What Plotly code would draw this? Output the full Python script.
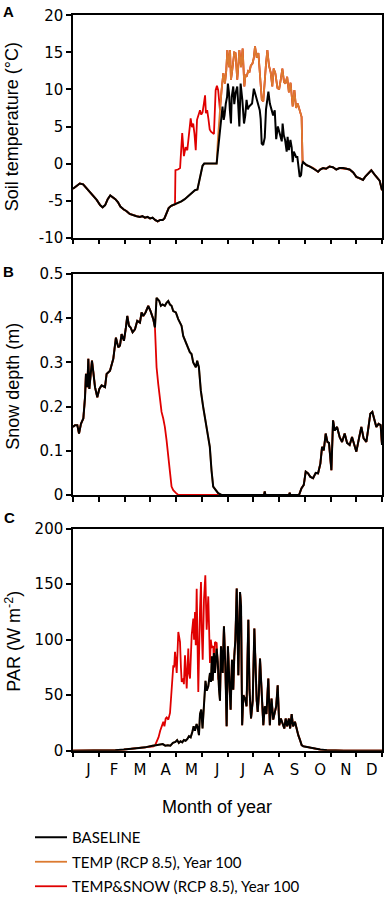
import plotly.graph_objects as go

# ---------------- DATA ----------------
# Panel A: soil temperature (°C), day of year
temp_base_day = [0, 4, 8, 12, 16, 20, 24, 28, 32, 35, 38, 41, 44, 47, 50, 53, 56, 60, 63, 67, 71, 75, 79, 82, 85, 88, 91, 94, 97, 100, 103, 106, 108, 111, 113, 116, 120, 124, 128, 132, 136, 140, 144, 147, 149, 151, 153, 155, 160, 165, 169.7,
                 171, 172.5, 173.5, 175, 176.6, 178, 179, 180.5, 182, 183, 184.3, 185.3, 186.6, 187.5, 189.3, 190.5, 192, 194, 195.2, 196.5, 198, 200, 202, 203.5, 205, 206.5, 208, 210, 211.5, 213.6, 215, 216.5, 218.7, 220.6, 221.7, 222.9, 224.6, 226.5, 228, 229.6, 230.8, 232.5, 234.4, 236.4, 238.3, 240, 242, 244.2, 246.6, 247.6, 249, 250.5, 252.4, 253.5, 255, 256.8, 258.3, 259.5, 260.8, 262, 263.5, 265, 266.2, 267.8, 269.4, 270.5, 271.8,
                 275.7, 280, 283.6, 287, 289.5, 292, 295.4, 299, 303, 307, 311, 315, 319, 323, 326.8, 331, 334.7, 339, 342.6, 345, 348.5, 352.4, 356.3, 360, 362.2, 365]
temp_base_val = [-3.4, -3.0, -2.7, -2.8, -3.3, -3.9, -4.4, -4.9, -5.6, -5.9, -5.6, -4.8, -4.3, -4.5, -4.8, -5.2, -5.8, -6.2, -6.4, -6.8, -7.0, -7.1, -7.2, -7.1, -7.3, -7.2, -7.4, -7.3, -7.6, -7.8, -7.6, -7.6, -7.4, -6.6, -6.0, -5.7, -5.5, -5.4, -5.1, -4.8, -4.4, -4.0, -3.6, -3.5, -2.5, -1.2, -0.3, 0.0, 0.0, 0.0, 0.0,
                 1.5, 3.2, 4.1, 6.0, 7.7, 5.9, 6.5, 8.1, 9.0, 10.8, 9.5, 7.2, 5.4, 9.0, 10.4, 8.0, 9.5, 10.4, 8.0, 5.0, 10.8, 8.6, 5.4, 6.5, 8.6, 7.3, 7.7, 8.0, 8.1, 10.1, 9.5, 9.0, 8.1, 7.2, 6.0, 2.7, 2.5, 3.5, 7.3, 8.5, 9.7, 8.1, 7.2, 6.5, 7.2, 3.3, 5.0, 4.1, 3.0, 5.4, 3.8, 3.2, 1.6, 3.6, 1.8, 3.2, 2.2, 0.2, 1.6, 1.3, 0.9, 0.9, -0.2, -1.8, -1.55, -0.2, 0.2,
                 -0.2, -0.4, -0.6, -0.9, -1.1, -0.8, -0.6, -0.7, -0.4, -0.5, -0.8, -0.6, -0.6, -0.7, -0.8, -1.2, -1.8, -2.0, -2.2, -1.8, -1.3, -0.9, -1.5, -2.0, -2.3, -3.6]

temp_temp_day = [169.7, 171, 172.5, 173.6, 175.5, 177.6, 179.5, 181, 182.3, 184.3, 185.5, 186.6, 188, 189.3, 190.5, 192, 194, 195.2, 196.5, 198.5, 200.4, 202.4, 203.8, 205, 207, 208.5, 210, 212, 213.5, 215, 217, 219, 221, 223, 224.8, 226.8, 228, 229.6, 231.5, 233.5, 235.4, 237, 239, 241.5, 243.5, 245.5, 247.3, 249.3, 251, 253, 255, 257, 259.5, 261.5, 263.5, 265.4, 268, 270, 271.2]
temp_temp_val = [0.0, 3.0, 6.0, 7.2, 9.9, 12.2, 10.8, 12.5, 15.3, 13.0, 15.3, 11.3, 12.5, 13.5, 15.0, 14.9, 11.3, 13.0, 15.3, 13.0, 15.5, 10.4, 12.0, 11.7, 12.5, 12.4, 13.2, 13.5, 14.2, 15.8, 14.3, 14.9, 11.7, 8.6, 8.4, 12.2, 13.5, 15.3, 13.2, 12.3, 10.4, 12.8, 12.2, 10.2, 10.0, 11.4, 12.8, 11.0, 10.8, 11.7, 9.6, 10.9, 7.7, 9.9, 7.5, 8.1, 7.2, 6.3, 0.2]

temp_snow_day = [120.5, 121, 124, 126.5, 128, 129, 131, 133, 135, 137, 139, 140.5, 142, 143.5, 145, 146.5, 148, 150, 151.5, 153, 154.5, 156, 157, 158.5, 160, 161.5, 163, 165, 166.5, 168.5, 170, 171.5, 172.8]
temp_snow_val = [-5.5, -0.9, -0.8, -0.6, 2.0, 4.1, 1.0, 2.2, 1.8, 4.1, 6.1, 4.9, 5.4, 4.0, 1.8, 5.9, 6.5, 7.2, 6.6, 6.9, 8.0, 9.2, 6.8, 7.2, 6.0, 4.6, 4.3, 4.1, 4.0, 9.9, 10.5, 9.9, 7.5]

# Panel B: snow depth (m)
snow_base_day = [0, 2.4, 5.1, 7.1, 9.4, 12.2, 14.2, 15.3, 16.9, 18.1, 19.3, 20.8, 22.4, 24, 26, 28.7, 31.1, 33.8, 37.8, 39.7, 43.7, 47.6, 50.7, 53.5, 55.5, 57.4, 60.2, 62.5, 64.1, 66.1, 68, 70.4, 73.2, 75.9, 79.1, 81, 83, 85.7, 88.9, 91.6, 94.8, 96.8, 98.7, 101.9, 103.8, 105.8, 108.5, 110.5, 112.5, 114.5, 116.4, 118.4, 121.5, 124.3, 128.2, 130.2, 134.1, 138, 140, 142, 145.1, 146.7, 148.7, 151, 153.8, 156.5, 159.7, 161.6, 163.6, 165.6, 168.7, 171.5, 175.4,
                 225.7, 226.5, 227.3, 255.2, 256, 256.8, 267, 269.8, 272.6, 274.9, 277.7, 280.4, 283.6, 286.7, 289.5, 292.2, 294.2, 296.2, 298.5, 300.5, 302.4, 305.2, 307.2, 309.1, 311.9, 315, 317.8, 320.9, 323.7, 326.8, 329.6, 331.9, 334.7, 337.8, 340.6, 343.3, 346.5, 348.5, 351.2, 353.6, 356.3, 358.3, 361, 363.4, 365]
snow_base_val = [0.154, 0.158, 0.158, 0.139, 0.161, 0.173, 0.221, 0.274, 0.244, 0.308, 0.240, 0.266, 0.304, 0.278, 0.244, 0.221, 0.240, 0.248, 0.244, 0.274, 0.281, 0.308, 0.356, 0.334, 0.338, 0.364, 0.349, 0.379, 0.405, 0.383, 0.379, 0.368, 0.375, 0.394, 0.390, 0.413, 0.405, 0.413, 0.428, 0.416, 0.398, 0.379, 0.446, 0.439, 0.428, 0.431, 0.428, 0.435, 0.439, 0.431, 0.428, 0.416, 0.413, 0.398, 0.383, 0.360, 0.341, 0.323, 0.319, 0.300, 0.289, 0.304, 0.289, 0.236, 0.199, 0.169, 0.139, 0.109, 0.056, 0.019, 0.011, 0.004, 0.0,
                 0.0, 0.008, 0.0, 0.0, 0.005, 0.0, 0.0, 0.015, 0.023, 0.053, 0.049, 0.041, 0.038, 0.050, 0.049, 0.071, 0.109, 0.101, 0.139, 0.120, 0.118, 0.056, 0.169, 0.146, 0.154, 0.131, 0.120, 0.139, 0.118, 0.113, 0.131, 0.116, 0.098, 0.128, 0.154, 0.128, 0.120, 0.146, 0.184, 0.188, 0.165, 0.154, 0.161, 0.158, 0.113]

snow_snow_day = [96.8, 98.7, 100.7, 102.7, 104.6, 106.6, 108.5, 110.5, 112.5, 114.5, 116.4, 118.4, 121.5, 124.3, 175.4]
snow_snow_val = [0.379, 0.289, 0.251, 0.221, 0.188, 0.173, 0.154, 0.124, 0.094, 0.053, 0.019, 0.011, 0.005, 0.0, 0.0]

# Panel C: PAR (W m-2)
par_base_day = [0, 40, 50, 60, 70, 78, 85, 90, 94, 98, 102, 106, 109, 112, 115, 118, 121, 123, 125, 127, 129, 131, 133, 135, 137, 139, 141, 142.5, 144, 146, 147.5, 148.8, 150, 151.5, 153, 154.7, 156.5, 158, 159.8, 161.8, 163, 164, 165, 166.5, 167.7, 169.7, 171, 172.5, 173.6, 174.8, 176.8, 178.3, 180, 181.5, 183, 184.6, 186.2, 187.8, 189.3, 190.5, 191.8, 193.4, 195.3, 197.3, 198.5, 199.8, 201.2, 203.2, 205, 207.1, 208.5, 210.3, 212.3, 214.2, 215.8, 217, 218.2, 219.5, 220.9, 222.9, 224.8, 226.5, 228.5, 230.7, 232.5, 234.5, 236.5, 238.5, 240, 241.8, 243.6, 245.5, 247.5, 249.6, 251.2, 253, 255, 256.5, 258.3, 260, 262.2, 264, 266.1, 268, 270.1, 272, 275, 280, 286, 292, 300, 310, 320, 365]
par_base_val = [0, 0, 0.5, 1, 1.5, 2.5, 3, 3.5, 4.5, 5, 5.5, 6, 4.5, 5, 4.5, 7, 8, 9.6, 7, 8.5, 7.5, 9.6, 9, 10.5, 13, 12, 17, 22, 18, 24, 20, 14, 33, 37, 20, 46, 63, 54, 58, 70, 62, 85, 63, 88, 70, 92, 80, 55, 45, 94, 70, 112, 75, 22, 94, 64, 37, 82, 55, 85, 100, 146, 68, 143, 130, 23, 50, 47, 40, 118, 55, 29, 45, 110, 62, 45, 35, 50, 83, 47, 23, 40, 33, 65, 23, 47, 28, 35, 40, 59, 23, 29, 25, 20, 29, 22, 29, 20, 33, 22, 26, 19, 14, 10, 5, 4, 3.5, 2.5, 1.5, 1, 0.5, 0.2, 0, 0]

par_snow_day = [95, 97, 99, 101, 103, 104.8, 106.7, 108, 109.5, 110.7, 112.6, 114.6, 116, 117.5, 118.5, 119.5, 120.5, 121.5, 122.5, 124.4, 126.4, 127.5, 128.4, 130.3, 131, 132.3, 133.5, 134.3, 136.2, 137, 138.2, 140.2, 142.1, 143, 144.1, 145, 146.1, 147, 148, 150, 151.2, 152, 153.2, 154.7, 156.3, 157.9, 158.8, 159.8, 161.8, 162.8, 163.8, 165.7, 166.7, 167.7, 169.7, 170.5, 171.6, 173]
par_snow_val = [4, 5, 9, 12, 18, 23, 26, 22, 29, 30, 28, 34, 50, 66, 77, 75, 89, 80, 70, 107, 98, 75, 62, 65, 60, 86, 70, 56, 92, 70, 65, 104, 119, 100, 125, 95, 146, 100, 53, 127, 152, 110, 82, 136, 158, 109, 130, 139, 79, 100, 93, 94, 75, 98, 97, 80, 64, 70]

month_labels = ["J", "F", "M", "A", "M", "J", "J", "A", "S", "O", "N", "D"]
temp_ticks = [-10, -5, 0, 5, 10, 15, 20]
temp_tick_labels = ["-10", "-5", "0", "5", "10", "15", "20"]
series_names = ["BASELINE", "TEMP (RCP 8.5), Year 100", "TEMP&SNOW (RCP 8.5), Year 100"]


# ---------------- HELPERS ----------------
def splice(bx, by, sx, sy):
    """Scenario series: base values outside the segment, segment values inside."""
    x = [d for d in bx if d < sx[0]] + list(sx) + [d for d in bx if d > sx[-1]]
    y = [v for d, v in zip(bx, by) if d < sx[0]] + list(sy) + [v for d, v in zip(bx, by) if d > sx[-1]]
    return x, y


W, H = 387, 897
def px(x):
    return x / W
def py(y):
    return 1 - y / H

BLACK = "#000000"
ORANGE = "#DC7A30"
RED = "#E00000"

temp_o = splice(temp_base_day, temp_base_val, temp_temp_day, temp_temp_val)
temp_r = splice(temp_o[0], temp_o[1], temp_snow_day, temp_snow_val)
snow_r = splice(snow_base_day, snow_base_val, snow_snow_day, snow_snow_val)
par_r = splice(par_base_day, par_base_val, par_snow_day, par_snow_val)

panels = [
    (temp_base_day, temp_base_val, temp_o, temp_r, "x", "y"),
    (snow_base_day, snow_base_val, (snow_base_day, snow_base_val), snow_r, "x2", "y2"),
    (par_base_day, par_base_val, (par_base_day, par_base_val), par_r, "x3", "y3"),
]

fig = go.Figure()
for i, (bx, by, o, r, xa, ya) in enumerate(panels):
    first = i == 0
    fig.add_trace(go.Scatter(x=r[0], y=r[1], mode="lines", line=dict(color=RED, width=1.8),
                             name=series_names[2], showlegend=first, legendgroup="c", legendrank=3,
                             xaxis=xa, yaxis=ya))
    fig.add_trace(go.Scatter(x=o[0], y=o[1], mode="lines", line=dict(color=ORANGE, width=1.8),
                             name=series_names[1], showlegend=first, legendgroup="b", legendrank=2,
                             xaxis=xa, yaxis=ya))
    fig.add_trace(go.Scatter(x=bx, y=by, mode="lines", line=dict(color=BLACK, width=2),
                             name=series_names[0], showlegend=first, legendgroup="a", legendrank=1,
                             xaxis=xa, yaxis=ya))

bounds = [i * 365 / 12 for i in range(13)]
mids = [(i + 0.5) * 365 / 12 + 3 for i in range(12)]

xdom = [px(73), px(382)]
ydoms = [[py(237.7), py(15.3)], [py(495), py(274)], [py(750.7), py(528.7)]]

tickfont = dict(family="DejaVu Sans, Liberation Sans, Arial", size=15, color="black")
common_x = dict(domain=xdom, range=[0, 365], showgrid=False, zeroline=False, showline=True,
                mirror=True, linecolor="black", linewidth=1.5, fixedrange=True)
common_y = dict(showgrid=False, zeroline=False, showline=True, mirror=True, linecolor="black",
                linewidth=1.5, ticks="outside", ticklen=5, tickwidth=1.5, tickcolor="black",
                tickfont=tickfont, fixedrange=True)

fig.update_layout(
    xaxis=dict(**common_x, anchor="y", tickmode="array", tickvals=bounds, showticklabels=False,
               ticks="outside", ticklen=5, tickwidth=1.5, tickcolor="black"),
    xaxis2=dict(**common_x, anchor="y2", tickmode="array", tickvals=bounds, showticklabels=False,
                ticks="outside", ticklen=5, tickwidth=1.5, tickcolor="black"),
    xaxis3=dict(**common_x, anchor="y3", tickmode="array", tickvals=mids, ticktext=month_labels,
                ticks="outside", ticklen=5, tickcolor="rgba(0,0,0,0)", tickfont=tickfont,
                minor=dict(tickmode="array", tickvals=bounds, ticks="outside", ticklen=5,
                           tickwidth=1.5, tickcolor="black")),
    yaxis=dict(**common_y, domain=ydoms[0], anchor="x", range=[-10, 20],
               tickmode="array", tickvals=temp_ticks, ticktext=temp_tick_labels),
    yaxis2=dict(**common_y, domain=ydoms[1], anchor="x2", range=[0, 0.5], dtick=0.1),
    yaxis3=dict(**common_y, domain=ydoms[2], anchor="x3", range=[0, 200], dtick=50),
    width=W, height=H,
    margin=dict(l=0, r=0, t=0, b=0, autoexpand=False),
    paper_bgcolor="white", plot_bgcolor="white",
    showlegend=True,
    legend=dict(x=px(30), y=py(821), xanchor="left", yanchor="top", tracegroupgap=2,
                itemwidth=32,
                font=dict(family="Lato, Liberation Sans, Arial", size=15, color="black"),
                bgcolor="rgba(0,0,0,0)"),
)

title_font = dict(family="Liberation Sans, Arial", size=18, color="black")
annots = [
    dict(text="Soil temperature (°C)", x=px(12.7), y=py(126.5)),
    dict(text="Snow depth (m)", x=px(12.7), y=py(386)),
    dict(text="PAR (W m<sup>-2</sup>)", x=px(12.7), y=py(641)),
]
for a in annots:
    fig.add_annotation(xref="paper", yref="paper", textangle=-90, showarrow=False,
                       xanchor="center", yanchor="middle", font=title_font, **a)

fig.add_annotation(text="Month of year", xref="paper", yref="paper", x=px(216.5), y=py(807),
                   showarrow=False, xanchor="center", yanchor="middle", font=title_font)

label_font = dict(family="Liberation Sans, Arial", size=15, color="black")
for t, xx, yy in [("<b>A</b>", 8, 11), ("<b>B</b>", 8, 272), ("<b>C</b>", 9, 517)]:
    fig.add_annotation(text=t, xref="paper", yref="paper", x=px(xx), y=py(yy), showarrow=False,
                       xanchor="center", yanchor="middle", font=label_font)

fig.write_html("out.html", config={"displayModeBar": False},
               post_script="document.body.style.margin='0';document.body.style.overflow='hidden';")
